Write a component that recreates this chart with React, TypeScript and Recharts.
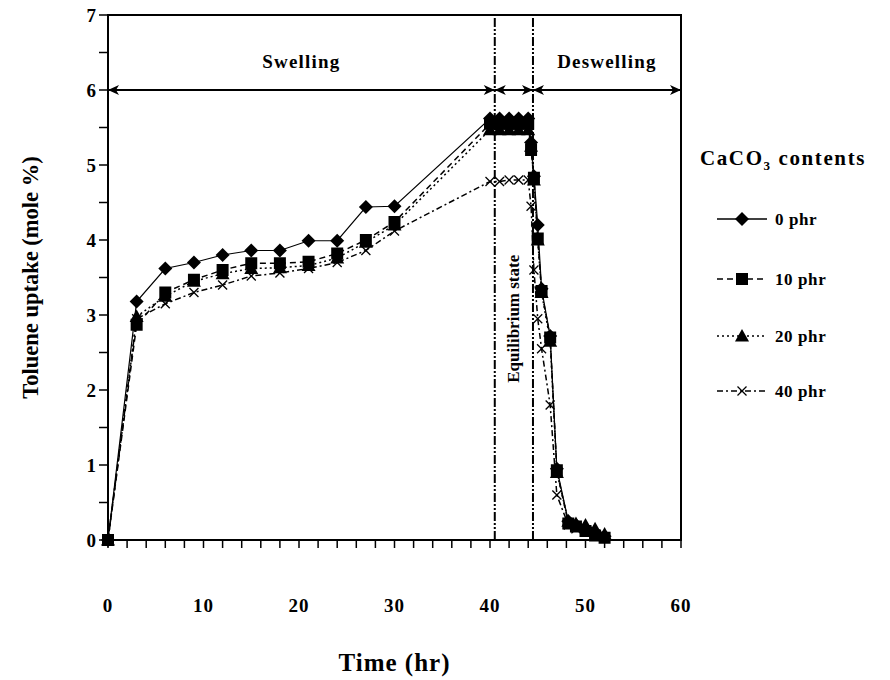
import React from 'react';
import {
  LineChart,
  Line,
  XAxis,
  YAxis,
  ReferenceLine,
  ReferenceArea,
  ReferenceDot,
} from 'recharts';

// Sampling times (hr): swelling, equilibrium plateau, then deswelling
const times = [0, 3, 6, 9, 12, 15, 18, 21, 24, 27, 30, 40, 41, 42, 43, 44, 44.3, 44.6, 45, 45.4, 46.3, 47, 48.2, 49, 50, 51, 52];

// Toluene uptake (mole %) for each CaCO3 loading
const uptake0 = [0, 3.18, 3.62, 3.7, 3.8, 3.86, 3.86, 3.99, 3.99, 4.44, 4.45, 5.62, 5.62, 5.62, 5.62, 5.62, 5.3, 4.85, 4.2, 3.35, 2.72, 0.95, 0.25, 0.2, 0.15, 0.1, 0.05];
const uptake10 = [0, 2.87, 3.3, 3.47, 3.6, 3.69, 3.69, 3.71, 3.82, 4.0, 4.24, 5.55, 5.55, 5.55, 5.55, 5.55, 5.2, 4.83, 4.02, 3.32, 2.7, 0.93, 0.22, 0.18, 0.12, 0.06, 0.03];
const uptake20 = [0, 2.98, 3.25, 3.45, 3.55, 3.62, 3.63, 3.66, 3.76, 3.97, 4.2, 5.47, 5.47, 5.47, 5.47, 5.47, 5.25, 4.8, 4.0, 3.3, 2.65, 0.9, 0.25, 0.22, 0.2, 0.15, 0.08];
const uptake40 = [0, 2.95, 3.15, 3.3, 3.4, 3.52, 3.56, 3.62, 3.7, 3.86, 4.12, 4.78, 4.78, 4.8, 4.8, 4.8, 4.45, 3.6, 2.95, 2.55, 1.8, 0.6, 0.2, 0.15, 0.12, 0.08, 0.04];

const seriesNames = ['0 phr', '10 phr', '20 phr', '40 phr'];

const xTicks = Array.from({ length: 31 }, (_, i) => i * 2);
const yTicks = Array.from({ length: 15 }, (_, i) => i * 0.5);

const rows = times.map((t, i) => ({
  t,
  s0: uptake0[i],
  s10: uptake10[i],
  s20: uptake20[i],
  s40: uptake40[i],
}));

const FONT = "'Liberation Serif', 'Times New Roman', serif";

type MarkerKind = 'diamond' | 'square' | 'triangle' | 'cross';

const series: { key: string; name: string; dash?: string; marker: MarkerKind }[] = [
  { key: 's0', name: seriesNames[0], marker: 'diamond' },
  { key: 's10', name: seriesNames[1], dash: '6 4', marker: 'square' },
  { key: 's20', name: seriesNames[2], dash: '2 3', marker: 'triangle' },
  { key: 's40', name: seriesNames[3], dash: '6 3 2 3', marker: 'cross' },
];

function Marker({ kind, cx, cy }: { kind: MarkerKind; cx: number; cy: number }) {
  if (kind === 'diamond') {
    return <polygon points={`${cx},${cy - 7} ${cx + 7},${cy} ${cx},${cy + 7} ${cx - 7},${cy}`} fill="#000" />;
  }
  if (kind === 'square') {
    return <rect x={cx - 6} y={cy - 6} width={12} height={12} fill="#000" />;
  }
  if (kind === 'triangle') {
    return <polygon points={`${cx},${cy - 7} ${cx + 7},${cy + 5.5} ${cx - 7},${cy + 5.5}`} fill="#000" />;
  }
  return (
    <g stroke="#000" strokeWidth={1.3}>
      <line x1={cx - 4.5} y1={cy - 4.5} x2={cx + 4.5} y2={cy + 4.5} />
      <line x1={cx - 4.5} y1={cy + 4.5} x2={cx + 4.5} y2={cy - 4.5} />
    </g>
  );
}

// Double-headed arrow drawn between the reference segment's endpoints
function Arrow(props: any) {
  const { x1, y1, x2, text } = props;
  const h = 11;
  const w = 5;
  return (
    <g>
      <line x1={x1} y1={y1} x2={x2} y2={y1} stroke="#000" strokeWidth={2} />
      <polygon points={`${x1},${y1} ${x1 + h},${y1 - w} ${x1 + h - 3},${y1} ${x1 + h},${y1 + w}`} fill="#000" />
      <polygon points={`${x2},${y1} ${x2 - h},${y1 - w} ${x2 - h + 3},${y1} ${x2 - h},${y1 + w}`} fill="#000" />
      {text && (
        <text
          x={(x1 + x2) / 2}
          y={y1 - 22}
          textAnchor="middle"
          fill="#000"
          fontFamily={FONT}
          fontWeight="bold"
          fontSize={19}
          letterSpacing={1.2}
        >
          {text}
        </text>
      )}
    </g>
  );
}

function XTick(props: any) {
  const { x, y, payload } = props;
  if (payload.value % 10 !== 0) return null;
  return (
    <text x={x} y={y + 62} textAnchor="middle" fill="#000" fontFamily={FONT} fontWeight="bold" fontSize={19} letterSpacing={1}>
      {payload.value}
    </text>
  );
}

function YTick(props: any) {
  const { x, y, payload } = props;
  if (payload.value % 1 !== 0) return null;
  return (
    <text x={x - 1} y={y} dy="0.35em" textAnchor="end" fill="#000" fontFamily={FONT} fontWeight="bold" fontSize={19}>
      {payload.value}
    </text>
  );
}

function LegendBox() {
  const rowsY = [219, 279, 336, 391];
  return (
    <svg width={200} height={420} style={{ position: 'absolute', left: 690, top: 0 }}>
      <text x={10} y={165} fill="#000" fontFamily={FONT} fontWeight="bold" fontSize={21} letterSpacing={1.6}>
        CaCO<tspan fontSize={13} dy={5}>3</tspan>
        <tspan dy={-5}> contents</tspan>
      </text>
      {series.map((s, i) => (
        <g key={s.key}>
          <line x1={27} y1={rowsY[i]} x2={77} y2={rowsY[i]} stroke="#000" strokeWidth={1.5} strokeDasharray={s.dash} />
          <Marker kind={s.marker} cx={52} cy={rowsY[i]} />
          <text x={85} y={rowsY[i]} dy="0.35em" fill="#000" fontFamily={FONT} fontWeight="bold" fontSize={17} letterSpacing={0.6}>
            {s.name}
          </text>
        </g>
      ))}
    </svg>
  );
}

export default function App() {
  return (
    <div style={{ position: 'fixed', left: 0, top: 0, width: 890, height: 680, background: '#fff' }}>
      <LineChart width={890} height={680} data={rows} margin={{ top: 15, right: 209, bottom: 0, left: 0 }}>
        <XAxis
          dataKey="t"
          type="number"
          domain={[0, 60]}
          ticks={xTicks}
          interval={0}
          height={140}
          tickSize={8}
          tick={<XTick />}
          axisLine={{ stroke: '#000', strokeWidth: 2 }}
          tickLine={{ stroke: '#000', strokeWidth: 1.5 }}
          label={{
            content: ({ viewBox }: any) => (
              <text
                x={viewBox.x + viewBox.width / 2}
                y={viewBox.y + 131}
                textAnchor="middle"
                fill="#000"
                fontFamily={FONT}
                fontWeight="bold"
                fontSize={25}
                letterSpacing={1}
              >
                Time (hr)
              </text>
            ),
          }}
        />
        <YAxis
          type="number"
          domain={[0, 7]}
          ticks={yTicks}
          interval={0}
          width={108}
          tickSize={9}
          tick={<YTick />}
          axisLine={{ stroke: '#000', strokeWidth: 2 }}
          tickLine={{ stroke: '#000', strokeWidth: 1.5 }}
          label={{
            content: ({ viewBox }: any) => {
              const cy = viewBox.y + viewBox.height / 2;
              return (
                <text
                  x={30}
                  y={cy}
                  transform={`rotate(-90, 30, ${cy})`}
                  textAnchor="middle"
                  dominantBaseline="central"
                  fill="#000"
                  fontFamily={FONT}
                  fontWeight="bold"
                  fontSize={22.5}
                >
                  Toluene uptake (mole %)
                </text>
              );
            },
          }}
        />
        <ReferenceArea x1={0} x2={60} y1={0} y2={7} fill="none" stroke="#000" strokeWidth={2} />
        <ReferenceLine x={40.5} stroke="#000" strokeWidth={2} strokeDasharray="9 2 2 2 2 2" />
        <ReferenceLine x={44.5} stroke="#000" strokeWidth={2} strokeDasharray="9 2 2 2 2 2" />
        <ReferenceLine segment={[{ x: 0, y: 6 }, { x: 40.5, y: 6 }]} shape={(p: any) => <Arrow {...p} text="Swelling" />} />
        <ReferenceLine segment={[{ x: 40.5, y: 6 }, { x: 44.5, y: 6 }]} shape={(p: any) => <Arrow {...p} />} />
        <ReferenceLine segment={[{ x: 44.5, y: 6 }, { x: 60, y: 6 }]} shape={(p: any) => <Arrow {...p} text="Deswelling" />} />
        <ReferenceDot
          x={42.5}
          y={2.95}
          shape={(p: any) => (
            <text
              x={p.cx}
              y={p.cy}
              transform={`rotate(-90, ${p.cx}, ${p.cy})`}
              textAnchor="middle"
              dominantBaseline="central"
              fill="#000"
              fontFamily={FONT}
              fontWeight="bold"
              fontSize={17}
            >
              Equilibrium state
            </text>
          )}
        />
        {series.map((s) => (
          <Line
            key={s.key}
            dataKey={s.key}
            name={s.name}
            type="linear"
            stroke="#000"
            strokeWidth={s.dash ? 1.5 : 1.2}
            strokeDasharray={s.dash}
            isAnimationActive={false}
            dot={(p: any) => <Marker key={`${s.key}-${p.index}`} kind={s.marker} cx={p.cx} cy={p.cy} />}
            activeDot={false}
          />
        ))}
      </LineChart>
      <LegendBox />
    </div>
  );
}
